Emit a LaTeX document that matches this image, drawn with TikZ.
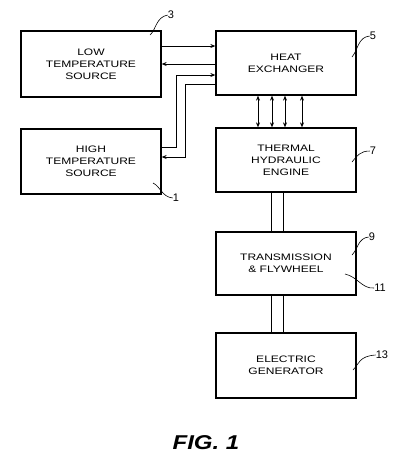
\documentclass[tikz,border=0pt]{standalone}
\usepackage{fontspec}
\setmainfont{Liberation Sans}[FakeStretch=1.28]
\newfontfamily\figfont{Liberation Sans}[FakeStretch=1.2]
\newfontfamily\numfont{Liberation Sans}
\usetikzlibrary{arrows.meta}
\begin{document}
\begin{tikzpicture}[x=1pt,y=-1pt,
  blk/.style={draw, line width=1.3pt, minimum width=140pt, inner sep=0pt, align=center,
    font=\fontsize{9.4}{12}\selectfont},
  conn/.style={line width=0.8pt, -{Stealth[length=5pt,width=4pt]}},
  dconn/.style={line width=0.8pt, {Stealth[length=5pt,width=4pt]}-{Stealth[length=5pt,width=4pt]}},
  lead/.style={line width=0.6pt},
  num/.style={font=\numfont\fontsize{11}{12}\selectfont, inner sep=0pt}]
\useasboundingbox[fill=white] (0,0) rectangle (401,467);
% blocks
\node[blk, minimum height=66pt] (LT) at (91,64) {LOW\\TEMPERATURE\\SOURCE};
\node[blk, minimum height=64pt] (HX) at (286,63) {HEAT\\EXCHANGER};
\node[blk, minimum height=65pt] (HT) at (91,161.5) {HIGH\\TEMPERATURE\\SOURCE};
\node[blk, minimum height=64pt] (TE) at (286,160) {THERMAL\\HYDRAULIC\\ENGINE};
\node[blk, minimum height=63pt] (TF) at (286,263.5) {TRANSMISSION\\\& FLYWHEEL};
\node[blk, minimum height=65pt] (EG) at (286,365.5) {ELECTRIC\\GENERATOR};
% connectors low temp <-> heat exchanger
\draw[conn] ([yshift=18pt]LT.east) -- ([yshift=18pt]LT.east -| HX.west);
\draw[conn] (HX.west |- LT.east) -- (LT.east);
% high temp <-> heat exchanger
\draw[conn] ([yshift=14pt]HT.east) -- ++(15,0) |- ([yshift=-12pt]HX.west);
\draw[conn] ([yshift=-21pt]HX.west) -- ++(-30,0) |- ([yshift=4.5pt]HT.east);
% heat exchanger <-> engine
\foreach \dx in {-28,-14,-1,16}{
  \draw[dconn] ([xshift=\dx pt]HX.south) -- ([xshift=\dx pt]HX.south |- TE.north);
}
% shafts
\draw[line width=0.9pt] ([xshift=-15pt]TE.south) rectangle ([xshift=-3pt]TF.north);
\draw[line width=0.9pt] ([xshift=-15pt]TF.south) rectangle ([xshift=-3pt]EG.north);
% reference numerals
\node[num] (n3) at (171,15) {3};
\node[num] (n5) at (373,36) {5};
\node[num] (n1) at (176,198) {1};
\node[num] (n7) at (373,151) {7};
\node[num] (n9) at (372,237) {9};
\node[num] (n11) at (380,288) {11};
\node[num] (n13) at (382,355) {13};
\coordinate (s3) at (150,35);
\coordinate (s5) at (352,57);
\coordinate (s1) at (153,183);
\coordinate (s7) at (352,162);
\coordinate (s9) at (352,255);
\coordinate (s11) at (345,274);
\coordinate (s13) at (353,370);
\draw[lead] (s3) .. controls (156,30) and (156,17) .. (n3.west);
\draw[lead] (s5) .. controls (358,50) and (358,37) .. (n5.west);
\draw[lead] (s7) .. controls (357,156) and (360,151) .. (n7.west);
\draw[lead] (s9) .. controls (358,249) and (358,238) .. (n9.west);
\draw[lead] (s13) .. controls (359,364) and (359,356) .. (n13.west);
\draw[lead] (s1) .. controls (160,186) and (162,197) .. (n1.west);
\draw[lead] (s11) .. controls (358,277) and (362,289) .. (n11.west);
% caption
\node[font=\figfont\bfseries\itshape\fontsize{20}{22}\selectfont, inner sep=0pt] (cap) at (206,443) {FIG. 1};
\end{tikzpicture}
\end{document}
